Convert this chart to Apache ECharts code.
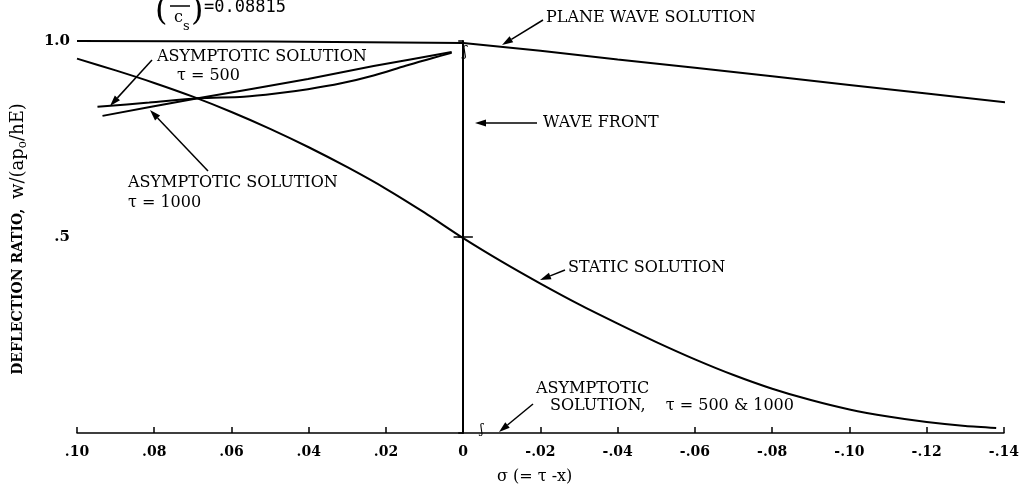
<!DOCTYPE html>
<html>
<head>
<meta charset="utf-8">
<script src="https://cdn.jsdelivr.net/npm/echarts@6/dist/echarts.min.js"></script>
<style>
  html, body { margin: 0; padding: 0; background: #fff; }
  #chart { width: 1022px; height: 485px; }
</style>
</head>
<body>
<div id="chart"></div>
<script>
// sigma runs from .10 (left) to -.14 (right)
const planeSigma = [0.10, 0.05, 0.00, -0.02, -0.04, -0.06, -0.08, -0.10, -0.12, -0.141];
const planeValue = [1.000, 0.999, 0.995, 0.975, 0.953, 0.932, 0.910, 0.888, 0.866, 0.843];

const staticSigma = [0.10, 0.09, 0.08, 0.07, 0.06, 0.05, 0.04, 0.03, 0.02, 0.01, 0,
  -0.01, -0.02, -0.03, -0.04, -0.05, -0.06, -0.07, -0.08, -0.09,
  -0.10, -0.11, -0.12, -0.13, -0.138];
const staticValue = [0.955, 0.925, 0.893, 0.858, 0.819, 0.776, 0.729, 0.678, 0.623, 0.562, 0.497,
  0.437, 0.381, 0.328, 0.279, 0.232, 0.188, 0.148, 0.113, 0.084,
  0.060, 0.042, 0.028, 0.018, 0.013];

const tau500Sigma = [0.0947, 0.0813, 0.0687, 0.0568, 0.0485, 0.0402, 0.0316, 0.0232, 0.0149, 0.0081, 0.0030];
const tau500Value = [0.832, 0.843, 0.854, 0.858, 0.866, 0.877, 0.892, 0.912, 0.937, 0.956, 0.970];

const tau1000Sigma = [0.0934, 0.0687, 0.0402, 0.0232, 0.0030];
const tau1000Value = [0.809, 0.854, 0.903, 0.936, 0.972];

const waveSigma = [0, 0];
const waveValue = [0, 0.997];

const crossSigma = [0.0025, -0.0025];
const crossValue = [0.5, 0.5];

const zip = (xs, ys) => xs.map((x, i) => [x, ys[i]]);

const serif = 'DejaVu Serif';
const ink = '#000';

const sigmaLabel = v => {
  if (Math.abs(v) < 1e-9) return '0';
  const s = Math.abs(v).toFixed(2).replace(/^0/, '');
  return (v < 0 ? '-' : '') + s;
};
const ratioLabel = v => {
  if (Math.abs(v - 1) < 1e-9) return '1.0';
  if (Math.abs(v - 0.5) < 1e-9) return '.5';
  return '';
};

function arrow(x1, y1, x2, y2) {
  const a = Math.atan2(y2 - y1, x2 - x1), L = 11, W = 3.5;
  const bx = x2 - L * Math.cos(a), by = y2 - L * Math.sin(a);
  const px = -Math.sin(a) * W, py = Math.cos(a) * W;
  return [
    { type: 'line', shape: { x1: x1, y1: y1, x2: bx, y2: by }, style: { stroke: ink, lineWidth: 1.5 } },
    { type: 'polygon', shape: { points: [[x2, y2], [bx + px, by + py], [bx - px, by - py]] }, style: { fill: ink } }
  ];
}

function note(x, y, text, size) {
  return {
    type: 'text', x: x, y: y,
    style: { text: text, font: (size || 16) + 'px "' + serif + '"', fill: ink, verticalAlign: 'middle' }
  };
}

const curve = (name, data, smooth, width) => ({
  name: name, type: 'line', data: data, symbol: 'none', smooth: smooth, clip: false,
  lineStyle: { color: ink, width: width || 2 }, z: 3
});

const chart = echarts.init(document.getElementById('chart'));
chart.setOption({
  animation: false,
  backgroundColor: '#fff',
  grid: { left: 77, right: 11, top: 41, bottom: 52 },
  xAxis: {
    type: 'value', min: -0.14, max: 0.10, interval: 0.02, inverse: true,
    axisLine: { lineStyle: { color: ink, width: 1.5 } },
    axisTick: { inside: true, length: 6, lineStyle: { color: ink, width: 1.5 } },
    axisLabel: { formatter: sigmaLabel, color: ink, fontFamily: serif, fontWeight: 'bold', fontSize: 14, margin: 12 },
    splitLine: { show: false }
  },
  yAxis: {
    type: 'value', min: 0, max: 1, interval: 0.5,
    axisLine: { show: true, lineStyle: { color: ink, width: 2 } },
    axisTick: { length: 5, lineStyle: { color: ink, width: 1.5 } },
    axisLabel: { formatter: ratioLabel, color: ink, fontFamily: serif, fontWeight: 'bold', fontSize: 15, margin: 7 },
    splitLine: { show: false }
  },
  series: [
    curve('plane wave', zip(planeSigma, planeValue), false, 2),
    curve('static', zip(staticSigma, staticValue), 0.25, 2),
    curve('tau 500', zip(tau500Sigma, tau500Value), 0.3, 2),
    curve('tau 1000', zip(tau1000Sigma, tau1000Value), 0.15, 2),
    curve('wave front', zip(waveSigma, waveValue), false, 1.5),
    curve('cross', zip(crossSigma, crossValue), false, 1.5)
  ],
  graphic: [
    // y axis title
    {
      type: 'text', x: 18, y: 239, rotation: Math.PI / 2,
      style: {
        text: 'DEFLECTION RATIO,  {n|w/(ap}{s|o}{n|/hE)}',
        font: 'bold 14px "' + serif + '"', fill: ink, align: 'center', verticalAlign: 'middle',
        rich: {
          n: { font: '18px "' + serif + '"', fill: ink },
          s: { font: '12px "' + serif + '"', fill: ink, padding: [10, 0, 0, 0] }
        }
      }
    },
    // x axis title
    note(497, 477, '\u03c3 (= \u03c4 -x)', 16),
    // parameter at top
    note(155, 12, '(', 32),
    note(176, -4, 'c', 16),
    { type: 'line', shape: { x1: 170, y1: 6, x2: 190, y2: 6 }, style: { stroke: ink, lineWidth: 1.5 } },
    note(174, 18, 'c', 16),
    note(183, 27, 's', 13),
    note(191, 12, ')', 32),
    { type: 'text', x: 204, y: 8, style: { text: '=0.08815', font: '17px "DejaVu Sans Mono"', fill: ink, verticalAlign: 'middle' } },
    // annotations
    note(157, 57, 'ASYMPTOTIC SOLUTION'),
    note(177, 76, '\u03c4 = 500'),
    ...arrow(152, 60, 110, 106),
    note(128, 183, 'ASYMPTOTIC SOLUTION'),
    note(128, 203, '\u03c4 = 1000'),
    ...arrow(208, 171, 150, 110),
    note(546, 18, 'PLANE WAVE SOLUTION'),
    ...arrow(543, 20, 502, 45),
    note(543, 123, 'WAVE FRONT'),
    ...arrow(537, 123, 475, 123),
    note(568, 268, 'STATIC SOLUTION'),
    ...arrow(565, 270, 540, 280),
    note(536, 389, 'ASYMPTOTIC'),
    note(550, 406, 'SOLUTION,    \u03c4 = 500 & 1000'),
    ...arrow(533, 404, 499, 432),
    note(463, 52, '\u0283', 14),
    note(480, 430, '\u0283', 12)
  ]
});
</script>
</body>
</html>
